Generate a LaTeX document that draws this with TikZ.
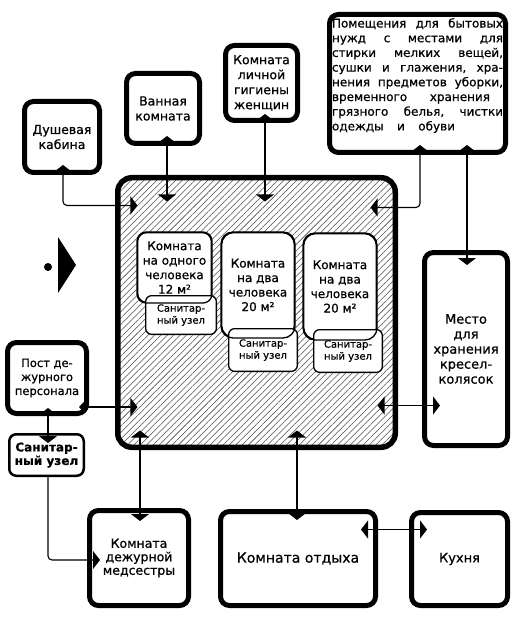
\documentclass[tikz,border=0pt]{standalone}
\usepackage{fontspec}
\setmainfont{DejaVu Sans}[FakeBold=0.7]
\usetikzlibrary{arrows.meta,calc,patterns.meta}
\newcommand{\fsz}[2]{\fontsize{#1}{#2}\selectfont}
\newcommand{\jline}[2]{\leavevmode\hbox to #1{#2}}
\tikzset{
  room/.style={draw, line width=5pt, rounded corners=9pt, align=center,
    inner sep=1pt, font=\fsz{12.5}{15}},
  mainbox/.style={draw, line width=5.5pt, rounded corners=14pt,
    pattern={Lines[angle=45,distance=4.5pt,line width=0.55pt]},
    pattern color=black!70},
  cell/.style={draw, fill=white, line width=1.3pt, rounded corners=9pt,
    align=center, inner sep=1pt, font=\fsz{12}{14.5}},
  wc/.style={cell, rounded corners=6pt, font=\fsz{10}{12}},
  link/.style={line width=1.1pt, rounded corners=4pt,
    >={Triangle[width=18pt,length=7pt]}, <->},
  oneway/.style={link, ->},
}
\begin{document}
\begin{tikzpicture}[x=1pt, y=-1pt]
\useasboundingbox (0,0) rectangle (516,617);
% ---- hatched ward block -------------------------------------------
\node[mainbox, minimum width=277.5, minimum height=269.5] (main) at (256.5,312.5) {};
\node[cell, minimum width=73.7, minimum height=69.7] (r1) at (174.5,267.5)
  {Комната\\на одного\\человека\\12 м²};
\node[wc, minimum width=70.7, minimum height=38.7] (s1) at (181,315)
  {Санитар-\\ный узел};
\draw[line width=1.3pt, rounded corners=9pt] (r1.south west) rectangle (r1.north east);
\node[cell, rounded corners=12pt, minimum width=72.7, minimum height=104.7] (r2) at (258,285)
  {Комната\\на два\\человека\\20 м²};
\node[wc, minimum width=68.7, minimum height=42.7] (s2) at (263,350)
  {Санитар-\\ный узел};
\draw[line width=1.3pt, rounded corners=12pt] (r2.south west) rectangle (r2.north east);
\node[cell, rounded corners=12pt, minimum width=72.7, minimum height=105.7] (r3) at (340,286.5)
  {Комната\\на два\\человека\\20 м²};
\node[wc, minimum width=68.7, minimum height=42.7] (s3) at (348,351)
  {Санитар-\\ный узел};
\draw[line width=1.3pt, rounded corners=12pt] (r3.south west) rectangle (r3.north east);
% ---- rooms round the block ----------------------------------------
\node[room, minimum width=75, minimum height=71] (dush) at (62,137) {Душевая\\кабина};
\node[room, minimum width=73, minimum height=70] (vann) at (163,108.5) {Ванная\\комната};
\node[room, minimum width=72, minimum height=75] (gig) at (261.5,83)
  {Комната\\личной\\гигиены\\женщин};
\node[room, minimum width=176, minimum height=138] (pom) at (417.5,83.5) {};
\node[anchor=north, inner sep=0pt, text width=171pt, align=left, font=\fsz{12}{14.7}]
  (pomtxt) at ($(pom.north)+(0,6)$)
  {\jline{171pt}{Помещения\hfill для\hfill бытовых}\\
   \jline{171pt}{нужд\hfill с\hfill местами\hfill для}\\
   \jline{171pt}{стирки\hfill мелких\hfill вещей,}\\
   \jline{171pt}{сушки\hfill и\hfill глажения,\hfill хра-}\\
   \jline{171pt}{нения\hfill предметов\hfill уборки,}\\
   \jline{158pt}{временного\hfill хранения}\\
   \jline{171pt}{грязного\hfill белья,\hfill чистки}\\
   \jline{123pt}{одежды\hfill и\hfill обуви}};
\node[room, minimum width=83, minimum height=193, font=\fsz{13}{15}] (mesto) at (466,349)
  {Место\\для\\хранения\\кресел-\\колясок};
\node[room, minimum width=79, minimum height=71, font=\fsz{11.5}{14}] (post) at (47,378)
  {Пост де-\\журного\\персонала};
\node[room, line width=2.5pt, rounded corners=7pt, minimum width=74.5, minimum height=41.5,
  font=\bfseries\fsz{12}{13.5}] (sanL) at (46.5,455) {Санитар-\\ный узел};
\node[room, minimum width=99, minimum height=95, font=\fsz{12.5}{13.5}] (med) at (139,558)
  {Комната\\дежурной\\медсестры};
\node[room, minimum width=155, minimum height=94, font=\fsz{14}{16}] (otd) at (298,558.5)
  {Комната отдыха};
\node[room, minimum width=96, minimum height=93, font=\fsz{13}{15}] (kuh) at (459.5,559) {Кухня};
% ---- sign at the left ---------------------------------------------
\fill (48,267) circle (4pt);
\fill (58,237) -- (76,265) -- (58,293) -- cycle;
% ---- links --------------------------------------------------------
\draw[link] ($(dush.south)+(1,-10)$) |- ($(main.north west)+(20,28)$);
\draw[link] ($(vann.south)+(4,-10)$) -- ($(vann.south |- main.north)+(4,24)$);
\draw[link] ($(gig.south)+(3.5,-9)$) -- ($(gig.south |- main.north)+(3.5,24)$);
\draw[link] ($(pom.south)+(2.5,-10)$) |- ($(main.north east)+(-25,30)$);
\draw[link] ($(mesto.north |- pom.south)+(1,-10)$) -- ($(mesto.north)+(1,15)$);
\draw[link] ($(main.south east)+(-18,-42)$) coordinate (mm) -- ($(mesto.west |- mm)+(18,0)$);
\draw[link, {Triangle[width=10pt,length=5pt]}->] ($(post.east)+(-10,29)$) coordinate (pm)
  -- ($(main.west |- pm)+(20,0)$);
\draw[link] ($(post.south)+(1,-8)$) -- ($(sanL.north)+(1.5,10)$);
\draw[oneway] ($(sanL.south)+(1.5,0)$) |- ($(med.west)+(13,2)$);
\draw[link] ($(med.north |- main.south)+(1,-17)$) -- ($(med.north)+(1,13)$);
\draw[link] ($(otd.north |- main.south)+(-1,-17)$) -- ($(otd.north)+(-1,11)$);
\draw[link] ($(otd.north east)+(-17,20.5)$) coordinate (ok) -- ($(kuh.west |- ok)+(18,0)$);
\end{tikzpicture}
\end{document}
